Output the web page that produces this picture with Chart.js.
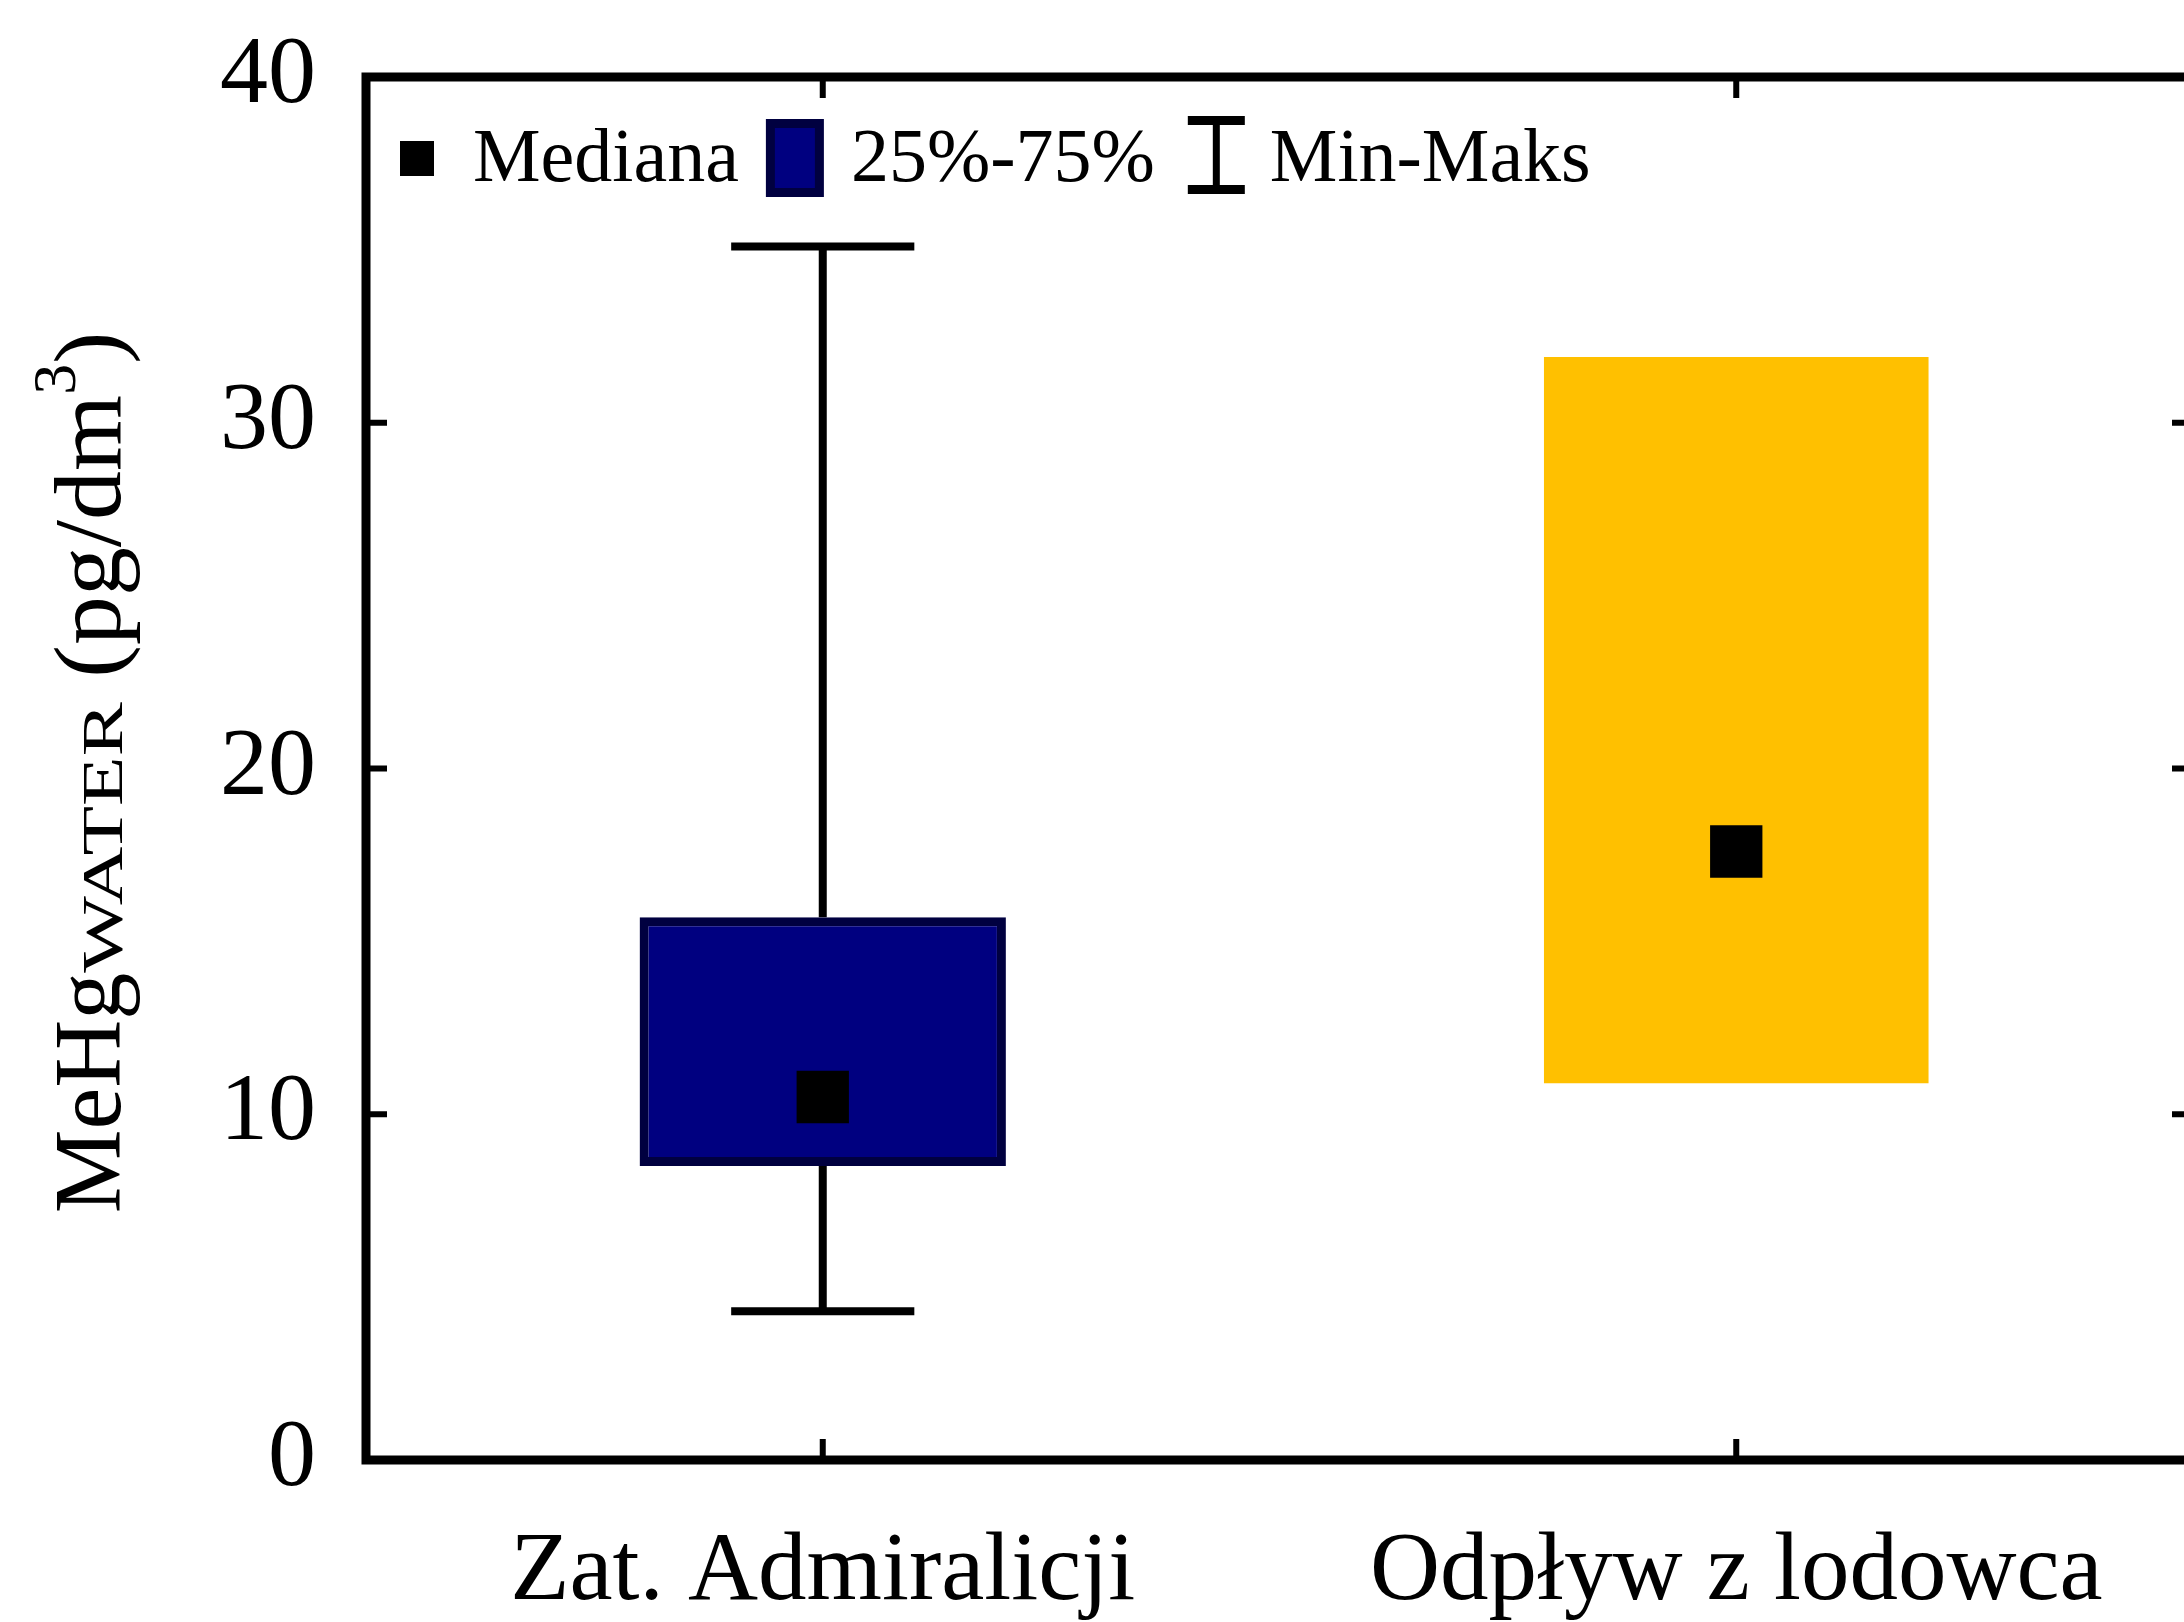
<!DOCTYPE html>
<html>
<head>
<meta charset="utf-8">
<title>MeHg w wodzie</title>
<script src="https://cdn.jsdelivr.net/npm/chart.js@4/dist/chart.umd.min.js"></script>
<style>
  html, body { margin: 0; padding: 0; background: #ffffff; overflow: hidden; }
  canvas { display: block; }
</style>
</head>
<body>
<canvas id="c" width="2260" height="1622"></canvas>
<script>
// Sampling sites and summary statistics of MeHg in water (pg/dm3)
const categories = ['Zat. Admiralicji', 'Odpływ z lodowca'];
const q1Values = [8.5, 10.9];
const q3Values = [15.7, 31.9];
const medianValues = [10.5, 17.6];
const minValues = [4.3, null];
const maxValues = [35.1, null];
const yTickValues = [0, 10, 20, 30, 40];
const legendLabels = ['Mediana', '25%-75%', 'Min-Maks'];

const SERIF = "'Liberation Serif', 'Times New Roman', serif";
const NAVY = '#000080';
const NAVY_EDGE = '#000040';
const GOLD = '#FFC000';

// Min-max whiskers, drawn beneath the boxes
const whiskerPlugin = {
  id: 'whiskers',
  beforeDatasetsDraw(chart) {
    const { ctx, scales: { x, y } } = chart;
    ctx.save();
    ctx.strokeStyle = '#000';
    ctx.lineWidth = 8;
    ctx.lineCap = 'butt';
    categories.forEach((_, i) => {
      if (minValues[i] == null || maxValues[i] == null) return;
      const cx = x.getPixelForValue(i);
      const meta = chart.getDatasetMeta(i);
      const bar = meta.data[i];
      const capHalf = bar ? bar.width / 4 : 90;
      const yMax = y.getPixelForValue(maxValues[i]);
      const yMin = y.getPixelForValue(minValues[i]);
      const yQ3 = y.getPixelForValue(q3Values[i]);
      const yQ1 = y.getPixelForValue(q1Values[i]);
      ctx.beginPath();
      ctx.moveTo(cx, yQ3); ctx.lineTo(cx, yMax);
      ctx.moveTo(cx, yQ1); ctx.lineTo(cx, yMin);
      ctx.moveTo(cx - capHalf, yMax); ctx.lineTo(cx + capHalf, yMax);
      ctx.moveTo(cx - capHalf, yMin); ctx.lineTo(cx + capHalf, yMin);
      ctx.stroke();
    });
    ctx.restore();
  }
};

// Closed frame with inward ticks on all four sides
const framePlugin = {
  id: 'frame',
  afterDatasetsDraw(chart) {
    const { ctx, chartArea: a, scales: { x, y } } = chart;
    const tick = 21;
    ctx.save();
    ctx.strokeStyle = '#000';
    ctx.lineWidth = 6;
    ctx.beginPath();
    yTickValues.forEach(v => {
      const py = y.getPixelForValue(v);
      ctx.moveTo(a.left, py); ctx.lineTo(a.left + tick, py);
      ctx.moveTo(a.right, py); ctx.lineTo(a.right - tick, py);
    });
    categories.forEach((_, i) => {
      const px = x.getPixelForTick(i);
      ctx.moveTo(px, a.bottom); ctx.lineTo(px, a.bottom - tick);
      ctx.moveTo(px, a.top); ctx.lineTo(px, a.top + tick);
    });
    ctx.stroke();
    ctx.lineWidth = 9;
    ctx.lineJoin = 'miter';
    ctx.strokeRect(a.left, a.top, a.right - a.left, a.bottom - a.top);
    ctx.restore();
  }
};

// Legend row inside the plot and the y-axis title with sub/superscript
const decorPlugin = {
  id: 'decor',
  afterDraw(chart) {
    const { ctx, chartArea: a } = chart;
    ctx.save();
    ctx.fillStyle = '#000';
    ctx.textBaseline = 'alphabetic';
    ctx.textAlign = 'left';
    ctx.font = '76px ' + SERIF;
    const rowMid = a.top + 81;
    const base = a.top + 103.5;
    let x = a.left + 34;

    // median marker
    ctx.fillStyle = '#000';
    ctx.fillRect(x, rowMid - 17, 34, 35);
    x += 34 + 39;
    ctx.fillText(legendLabels[0], x, base);
    x += ctx.measureText(legendLabels[0]).width + 27;

    // interquartile box
    ctx.fillStyle = NAVY_EDGE;
    ctx.fillRect(x, rowMid - 39, 58, 78);
    ctx.fillStyle = NAVY;
    ctx.fillRect(x + 9, rowMid - 30, 40, 60);
    x += 58 + 27;
    ctx.fillStyle = '#000';
    ctx.fillText(legendLabels[1], x, base);
    x += ctx.measureText(legendLabels[1]).width + 33;

    // whisker icon
    ctx.fillRect(x, rowMid - 42, 57, 9);
    ctx.fillRect(x, rowMid + 27, 57, 9);
    ctx.fillRect(x + 25, rowMid - 42, 7, 78);
    x += 57 + 25;
    ctx.fillText(legendLabels[2], x, base);

    // y-axis title: MeHg_WATER (pg/dm^3)
    const parts = [
      { t: 'MeHg', size: 96, sx: 0.98, dy: 0 },
      { t: 'WATER', size: 56, sx: 1.45, dy: 2 },
      { t: ' (pg/dm', size: 96, sx: 1.02, dy: 0 },
      { t: '3', size: 62, sx: 1, dy: -45 },
      { t: ')', size: 96, sx: 1, dy: 0 }
    ];
    parts.forEach(p => {
      ctx.font = p.size + 'px ' + SERIF;
      p.w = ctx.measureText(p.t).width * p.sx;
    });
    const total = parts.reduce((s, p) => s + p.w, 0);
    const cy = (a.top + a.bottom) / 2 + 4;
    ctx.translate(a.left - 246, cy);
    ctx.rotate(-Math.PI / 2);
    let tx = -total / 2;
    parts.forEach(p => {
      ctx.save();
      ctx.font = p.size + 'px ' + SERIF;
      ctx.translate(tx, p.dy);
      ctx.scale(p.sx, 1);
      ctx.fillText(p.t, 0, 0);
      ctx.restore();
      tx += p.w;
    });
    ctx.restore();
  }
};

new Chart(document.getElementById('c'), {
  data: {
    labels: categories,
    datasets: [
      {
        type: 'bar',
        label: legendLabels[1],
        data: [[q1Values[0], q3Values[0]], null],
        backgroundColor: NAVY,
        borderColor: NAVY_EDGE,
        borderWidth: 9,
        borderSkipped: false,
        barPercentage: 0.401,
        categoryPercentage: 1,
        grouped: false,
        order: 2
      },
      {
        type: 'bar',
        label: legendLabels[1],
        data: [null, [q1Values[1], q3Values[1]]],
        backgroundColor: GOLD,
        borderWidth: 0,
        barPercentage: 0.421,
        categoryPercentage: 1,
        grouped: false,
        order: 2
      },
      {
        type: 'line',
        label: legendLabels[0],
        data: medianValues,
        showLine: false,
        pointStyle: 'rect',
        pointRadius: 37,
        pointBackgroundColor: '#000',
        pointBorderWidth: 0,
        pointBorderColor: '#000',
        order: 0
      }
    ]
  },
  options: {
    responsive: false,
    animation: false,
    devicePixelRatio: 1,
    layout: { padding: { top: 77, right: 67, left: 0, bottom: 0 } },
    plugins: { legend: { display: false }, tooltip: { enabled: false } },
    scales: {
      x: {
        type: 'category',
        offset: true,
        grid: { display: false, drawTicks: false },
        border: { display: false },
        ticks: { color: '#000', font: { family: SERIF, size: 97 }, padding: 55, maxRotation: 0, autoSkip: false },
        afterFit(scale) { scale.height = 162; }
      },
      y: {
        type: 'linear',
        min: 0,
        max: 40,
        grid: { display: false, drawTicks: false },
        border: { display: false },
        afterBuildTicks(scale) { scale.ticks = yTickValues.map(v => ({ value: v })); },
        ticks: { color: '#000', font: { family: SERIF, size: 96 }, padding: 50 },
        afterFit(scale) {
          scale.width = 366;
          scale.paddingTop = 0;
          scale.paddingBottom = 0;
        }
      }
    }
  },
  plugins: [whiskerPlugin, framePlugin, decorPlugin]
});
</script>
</body>
</html>
